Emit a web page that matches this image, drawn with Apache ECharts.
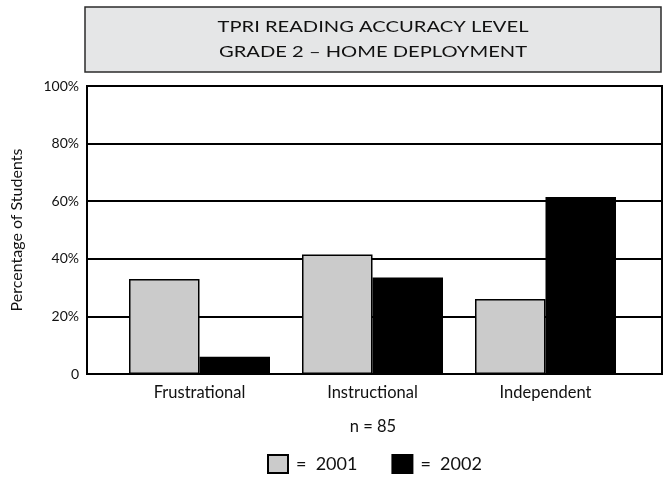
<!DOCTYPE html>
<html>
<head>
<meta charset="utf-8">
<script src="https://cdn.jsdelivr.net/npm/echarts@6/dist/echarts.min.js"></script>
<style>
	html, body { margin: 0; padding: 0; background: #fff; }
	#chart { width: 667px; height: 478px; }
</style>
</head>
<body>
<div id="chart"></div>
<script>
const categories = ["Frustrational", "Instructional", "Independent"];
const values2001 = [33, 41.5, 26];
const values2002 = [6, 33.5, 61.5];
const yTicks = [0, 20, 40, 60, 80, 100];
const titleLines = ["TPRI READING ACCURACY LEVEL", "GRADE 2 \u2013 HOME DEPLOYMENT"];
const font = "Lato, 'Open Sans', sans-serif";

let chart = echarts.init(document.getElementById("chart"));

let option = {
	backgroundColor: "#fff",
	animation: false,
	graphic: [
		{
			type: "rect",
			shape: { x: 85, y: 7, width: 576, height: 65 },
			style: { fill: "#e5e6e7", stroke: "#2b2b2b", lineWidth: 1.5 }
		},
		{
			type: "text",
			x: 373, y: 27,
			scaleX: 1.3,
			style: {
				text: titleLines[0],
				font: "15.5px " + font,
				fill: "#111",
				align: "center",
				verticalAlign: "middle"
			}
		},
		{
			type: "text",
			x: 373, y: 52,
			scaleX: 1.3,
			style: {
				text: titleLines[1],
				font: "15.5px " + font,
				fill: "#111",
				align: "center",
				verticalAlign: "middle"
			}
		},
		{
			type: "text",
			x: 373, y: 427,
			style: {
				text: "n = 85",
				font: "16.5px " + font,
				fill: "#111",
				align: "center",
				verticalAlign: "middle"
			}
		}
	],
	legend: {
		top: 449,
		left: 262,
		itemWidth: 20,
		itemHeight: 18,
		itemGap: 34,
		icon: "rect",
		selectedMode: false,
		formatter: "=  {name}",
		itemStyle: { borderColor: "#000", borderWidth: 2 },
		textStyle: { fontFamily: font, fontSize: 18, color: "#111", padding: [0, 0, 0, 3] },
		data: ["2001", "2002"]
	},
	grid: [
		{
			left: 87, right: 5, top: 86, bottom: 104,
			show: true, borderColor: "#000", borderWidth: 2
		},
		{
			left: 113, right: 35, top: 86, bottom: 104
		}
	],
	xAxis: [
		{
			gridIndex: 0,
			type: "value",
			min: 0, max: 1,
			show: false
		},
		{
			gridIndex: 1,
			type: "category",
			data: categories,
			axisLine: { show: false },
			axisTick: { show: false },
			axisLabel: { fontFamily: font, fontSize: 16.5, color: "#111", margin: 10 }
		}
	],
	yAxis: [
		{
			gridIndex: 0,
			type: "value",
			min: 0, max: 100, interval: 20,
			name: "Percentage of Students",
			nameLocation: "middle",
			nameGap: 62,
			nameTextStyle: { fontFamily: font, fontSize: 16, color: "#111" },
			axisLine: { show: true, lineStyle: { color: "#000", width: 2 } },
			axisTick: { show: false },
			axisLabel: {
				fontFamily: font, fontSize: 14, color: "#111", margin: 8,
				formatter: function(v) {
					return yTicks.indexOf(v) > 0 ? v + "%" : "0";
				}
			},
			splitLine: { show: true, lineStyle: { color: "#000", width: 2 } }
		},
		{
			gridIndex: 1,
			type: "value",
			min: 0, max: 100,
			show: false
		}
	],
	series: [
		{
			name: "2001",
			type: "bar",
			xAxisIndex: 1, yAxisIndex: 1,
			data: values2001,
			barGap: "0%",
			barCategoryGap: "18.5%",
			itemStyle: { color: "#cbcbcb", borderColor: "#000", borderWidth: 1.5 }
		},
		{
			name: "2002",
			type: "bar",
			xAxisIndex: 1, yAxisIndex: 1,
			data: values2002,
			barGap: "0%",
			barCategoryGap: "18.5%",
			itemStyle: { color: "#000", borderColor: "#000", borderWidth: 1.5 }
		}
	]
};

chart.setOption(option);
</script>
</body>
</html>
